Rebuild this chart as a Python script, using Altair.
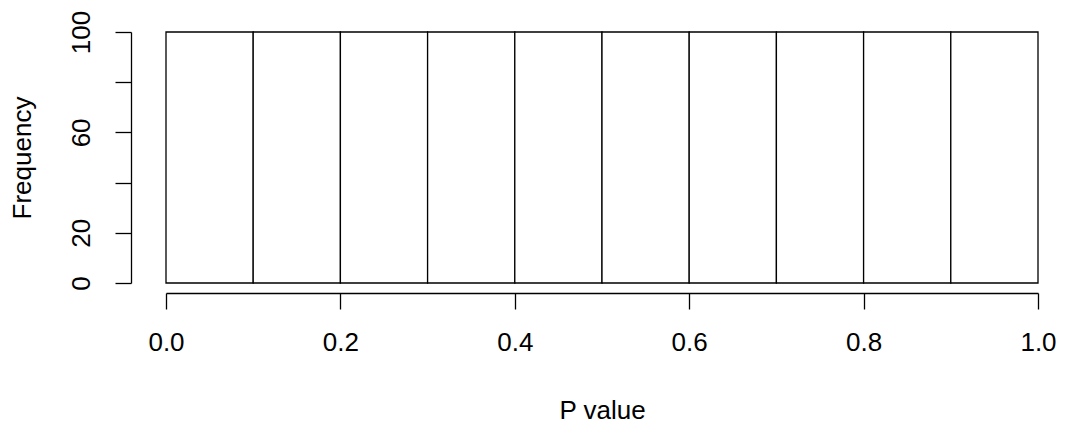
import altair as alt
import pandas as pd

bin_start = [0.0, 0.1, 0.2, 0.3, 0.4, 0.5, 0.6, 0.7, 0.8, 0.9]
bin_end = [0.1, 0.2, 0.3, 0.4, 0.5, 0.6, 0.7, 0.8, 0.9, 1.0]
counts = [100, 100, 100, 100, 100, 100, 100, 100, 100, 100]
x_ticks = [0.0, 0.2, 0.4, 0.6, 0.8, 1.0]
y_ticks = [0, 20, 40, 60, 80, 100]

df = pd.DataFrame({"start": bin_start, "end": bin_end, "count": counts})

FONT = "Liberation Sans"
label_expr = "datum.value == 40 || datum.value == 80 ? '' : datum.label"

chart = alt.Chart(df).mark_rect(
    fill="white", stroke="black", strokeWidth=1.3
).encode(
    x=alt.X("start:Q",
            scale=alt.Scale(domain=[0, 1], nice=False, zero=False),
            axis=alt.Axis(values=x_ticks, format=".1f", title="P value",
                          offset=10, tickSize=16, labelPadding=20,
                          titlePadding=42, grid=False)),
    x2="end:Q",
    y=alt.Y("count:Q",
            scale=alt.Scale(domain=[0, 100], nice=False),
            axis=alt.Axis(values=y_ticks, title="Frequency", labelExpr=label_expr,
                          offset=35, tickSize=16, labelPadding=26,
                          labelAngle=270, labelAlign="center",
                          labelBaseline="alphabetic",
                          titlePadding=33, grid=False)),
    y2=alt.datum(0),
).properties(
    width=872, height=251,
    autosize=alt.AutoSizeParams(type="none"),
    padding={"left": 158, "top": 24, "right": 20, "bottom": 150},
).configure_view(stroke=None).configure_axis(
    domainColor="black", tickColor="black", labelColor="black", titleColor="black",
    domainWidth=1.3, tickWidth=1.3,
    labelFont=FONT, titleFont=FONT, labelFontSize=26, titleFontSize=26,
    titleFontWeight="normal", labelFlush=False, labelOverlap=False,
)

chart.save("out.html", embed_options={"renderer": "svg", "actions": False})
